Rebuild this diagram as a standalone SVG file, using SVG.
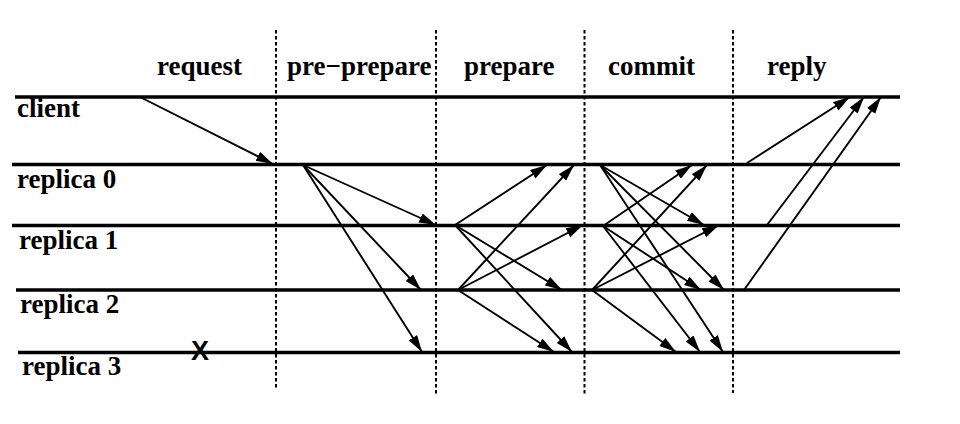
<svg xmlns="http://www.w3.org/2000/svg" width="960" height="424" viewBox="0 0 960 424">
<style>
.bg{fill:#ffffff}
.tl{stroke:#000;stroke-width:3.6;fill:none}
.ph{stroke:#000;stroke-width:2;stroke-dasharray:3.5 2.5;fill:none}
.lbl{font-family:"Liberation Serif","Times New Roman",serif;font-weight:bold;font-size:27px;fill:#000}
.msg{stroke:#000;stroke-width:1.9;fill:none;marker-end:url(#ah)}
.x{font-family:"Liberation Sans",Arial,sans-serif;font-weight:bold;font-size:27px;fill:#000}
</style>
<defs>
<marker id="ah" markerUnits="userSpaceOnUse" markerWidth="18" markerHeight="11" refX="17" refY="5" orient="auto">
<path d="M0,0 L17,5 L0,10 z" fill="#000"/>
</marker>
</defs>
<rect class="bg" x="0" y="0" width="960" height="424"/>
<g id="phases">
<line class="ph" x1="276" y1="30" x2="276" y2="388"/>
<line class="ph" x1="436" y1="30" x2="436" y2="395"/>
<line class="ph" x1="584.5" y1="30" x2="584.5" y2="395"/>
<line class="ph" x1="733" y1="30" x2="733" y2="393"/>
<text class="lbl" x="157" y="75">request</text>
<text class="lbl" x="287" y="75">pre−prepare</text>
<text class="lbl" x="464" y="75">prepare</text>
<text class="lbl" x="608" y="75">commit</text>
<text class="lbl" x="767" y="75">reply</text>
</g>
<g id="client">
<line class="tl" x1="15" y1="97" x2="900" y2="97"/>
<text class="lbl" x="17" y="117">client</text>
</g>
<g id="replica0">
<line class="tl" x1="12" y1="164.5" x2="900" y2="164.5"/>
<text class="lbl" x="17" y="188">replica 0</text>
</g>
<g id="replica1">
<line class="tl" x1="12" y1="225.5" x2="900" y2="225.5"/>
<text class="lbl" x="19" y="249">replica 1</text>
</g>
<g id="replica2">
<line class="tl" x1="16" y1="290" x2="900" y2="290"/>
<text class="lbl" x="20" y="313">replica 2</text>
</g>
<g id="replica3">
<line class="tl" x1="18" y1="352.5" x2="900" y2="352.5"/>
<text class="lbl" x="22" y="375">replica 3</text>
<text class="x" x="200" y="360" text-anchor="middle">X</text>
</g>
<g id="connectors">
<!-- request -->
<line class="msg" x1="140" y1="97" x2="273" y2="164"/>
<!-- pre-prepare -->
<line class="msg" x1="303" y1="165" x2="436" y2="225"/>
<line class="msg" x1="303" y1="165" x2="421" y2="290"/>
<line class="msg" x1="303" y1="165" x2="422" y2="352"/>
<!-- prepare -->
<line class="msg" x1="455" y1="225" x2="547" y2="165"/>
<line class="msg" x1="455" y1="225" x2="562" y2="290"/>
<line class="msg" x1="455" y1="225" x2="572" y2="352"/>
<line class="msg" x1="458" y1="290" x2="574" y2="165"/>
<line class="msg" x1="458" y1="290" x2="583" y2="225"/>
<line class="msg" x1="458" y1="290" x2="554" y2="352"/>
<!-- commit -->
<line class="msg" x1="600" y1="165" x2="704" y2="225"/>
<line class="msg" x1="600" y1="165" x2="724" y2="290"/>
<line class="msg" x1="600" y1="165" x2="723" y2="352"/>
<line class="msg" x1="603" y1="226" x2="692" y2="165"/>
<line class="msg" x1="603" y1="226" x2="701" y2="290"/>
<line class="msg" x1="603" y1="226" x2="700" y2="352"/>
<line class="msg" x1="592" y1="290" x2="707" y2="165"/>
<line class="msg" x1="592" y1="290" x2="719" y2="225"/>
<line class="msg" x1="592" y1="290" x2="676" y2="352"/>
<!-- reply -->
<line class="msg" x1="747" y1="163" x2="850" y2="97"/>
<line class="msg" x1="767" y1="225" x2="864" y2="97"/>
<line class="msg" x1="744" y1="290" x2="881" y2="97"/>
</g>
</svg>
